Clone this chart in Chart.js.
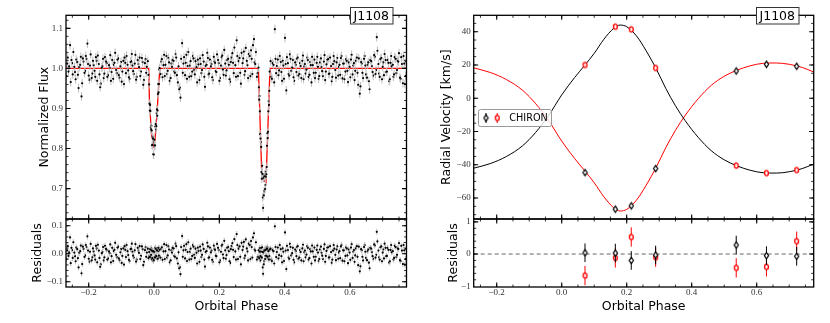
<!DOCTYPE html>
<html><head><meta charset="utf-8">
<script src="https://cdn.jsdelivr.net/npm/chart.js@4.4.0/dist/chart.umd.min.js"></script>
<style>
html,body{margin:0;padding:0;background:#fff;width:830px;height:323px;overflow:hidden}
canvas{position:absolute}
</style></head><body>
<canvas id="lcMain" width="420" height="225" style="left:0px;top:0px"></canvas>
<canvas id="lcRes" width="420" height="109" style="left:0px;top:214px"></canvas>
<canvas id="rvMain" width="415" height="225" style="left:415px;top:0px"></canvas>
<canvas id="rvRes" width="415" height="109" style="left:415px;top:214px"></canvas>
<script>
// ---------------- DATA ----------------
// Light curve (phase-folded photometry), first group of points
const lcPhase = [
-0.266,-0.262,-0.257,-0.253,-0.249,-0.244,-0.240,-0.235,-0.231,-0.226,-0.222,-0.218,-0.213,-0.209,-0.204,-0.200,-0.196,-0.191,-0.187,-0.182,-0.178,-0.174,-0.169,-0.165,-0.160,-0.156,-0.152,-0.147,-0.143,-0.138,-0.134,-0.130,-0.125,-0.121,-0.116,-0.112,-0.108,-0.103,-0.099,-0.094,-0.090,-0.086,-0.081,-0.077,-0.072,-0.068,-0.064,-0.059,-0.055,-0.050,-0.046,-0.042,-0.037,-0.033,-0.028,-0.024,-0.019,
-0.015,-0.013,-0.011,-0.009,-0.007,-0.005,-0.003,-0.001,0.001,0.003,0.005,0.007,0.009,0.011,0.013,0.015,0.017,
0.020,0.024,0.029,0.033,0.038,0.042,0.046,0.051,0.055,0.060,0.064,0.068,0.073,0.077,0.081,0.086,0.090,0.095,0.099,0.103,0.108,0.112,0.117,0.121,0.125,0.130,0.134,0.139,0.143,0.147,0.152,0.156,0.161,0.165,0.169,0.174,0.178,0.183,0.187,0.191,0.196,0.200,0.205,0.209,0.213,0.218,0.222,0.227,0.231,0.235,0.240,0.244,0.249,0.253,0.257,0.262,0.266,0.271,0.275,0.279,0.284,0.288,0.293,0.297,0.301,0.306,0.310,0.315,
0.320,0.322,0.324,0.326,0.328,0.330,0.332,0.334,0.336,0.338,0.340,0.342,0.344,0.346,0.348,0.350,0.352,0.354,
0.357,0.361,0.366,0.370,0.374,0.379,0.383,0.388,0.392,0.396,0.401,0.405,0.410,0.414,0.418,0.423,0.427,0.432,0.436,0.440,0.445,0.449,0.454,0.458,0.462,0.467,0.471,0.476,0.480,0.484,0.489,0.493,0.498,0.502,0.506,0.511,0.515,0.520,0.524,0.528,0.533,0.537,0.542,0.546,0.550,0.555,0.559,0.564,0.568,0.572,0.577,0.581,0.586,0.590,0.594,0.599,0.603,0.608,0.612,0.616,0.621,0.625,0.630,0.634,0.638,0.643,0.647,0.652,0.656,0.660,0.665,0.669,0.674,0.678,0.682,0.687,0.691,0.696,0.700,0.704,0.709,0.713,0.718,0.722,0.726,0.731,0.735,0.740,0.744,0.748,0.753,0.757,0.762,0.766,0.770
];
const lcFlux = [
1.012,.992,1.058,1.021,.985,1.004,.973,1.016,.951,1.009,.93,1.025,.989,1.031,1.062,.982,1.007,.976,1.019,.994,1.028,.969,1.011,.953,1.002,1.024,.987,1.017,.979,1.008,1.033,.991,.974,1.014,.996,1.022,.983,1.005,.967,1.019,1.027,.988,1.009,.978,1.016,1.036,.993,1.012,.972,1.021,1.003,.981,1.026,.959,1.013,.989,1.018,
.960,.895,.894,.848,.845,.809,.825,.785,.822,.808,.861,.856,.898,.895,.961,.961,1.001,
.986,1.023,1.008,.981,1.031,.994,1.015,.976,1.004,1.019,.989,1.027,.965,.948,.927,1.063,1.012,.983,1.034,1.006,.979,1.018,.992,1.025,.985,1.003,1.022,.971,1.011,.996,1.017,.954,1.009,1.026,.987,1.005,.978,1.029,1.014,.991,1.021,.969,1.007,1.032,.984,1.012,.995,1.024,.973,1.016,1.038,.988,1.008,1.07,.981,1.026,.962,1.013,1.042,.993,1.019,.976,1.031,1.045,.986,1.073,1.011,.979,
1.002,.922,.893,.825,.804,.725,.737,.652,.683,.731,.699,.730,.736,.807,.826,.893,.909,.992,
1.018,.974,1.009,1.098,.988,1.022,.995,1.016,.969,1.007,1.076,.945,1.013,.982,1.024,1.002,.978,1.015,.991,1.027,.986,1.006,1.019,.973,1.011,.997,1.021,.984,1.008,1.029,.989,.976,1.014,1.004,.981,1.025,.993,1.017,.971,1.010,1.023,.987,1.006,.979,1.031,.996,1.015,.982,1.009,1.026,.975,1.012,.992,1.019,.966,1.004,1.022,.985,1.013,.994,1.027,.959,.937,1.016,.989,1.024,1.007,.977,1.015,.948,1.018,.991,1.033,.986,1.078,1.011,.979,1.026,1.004,.983,1.021,.992,1.014,.973,1.031,1.009,.985,1.024,.996,1.017,.977,1.028,.963,1.012,.981
];
const lcResid = [
.012,-.008,.058,.021,-.015,.004,-.027,.016,-.049,.009,-.07,.025,-.011,.031,.062,-.018,.007,-.024,.019,-.006,.028,-.031,.011,-.047,.002,.024,-.013,.017,-.021,.008,.033,-.009,-.026,.014,-.004,.022,-.017,.005,-.033,.019,.027,-.012,.009,-.022,.016,.036,-.007,.012,-.028,.021,.003,-.019,.026,-.041,.013,-.011,.018,
.006,-.012,.015,-.004,.011,-.016,.009,-.023,.007,-.014,.018,-.009,.012,-.018,.021,-.007,.014,
-.014,.023,.008,-.019,.031,-.006,.015,-.024,.004,.019,-.011,.027,-.035,-.052,-.073,.063,.012,-.017,.034,.006,-.021,.018,-.008,.025,-.015,.003,.022,-.029,.011,-.004,.017,-.046,.009,.026,-.013,.005,-.022,.029,.014,-.009,.021,-.031,.007,.032,-.016,.012,-.005,.024,-.027,.016,.038,-.012,.008,.07,-.019,.026,-.038,.013,.042,-.007,.019,-.024,.031,.045,-.014,.073,.011,-.021,
.012,-.016,.007,-.009,.021,-.013,.006,-.072,-.038,.011,-.019,.014,-.008,.017,-.011,.009,-.021,.015,
.018,-.026,.009,.098,-.012,.022,-.005,.016,-.031,.007,.076,-.055,.013,-.018,.024,.002,-.022,.015,-.009,.027,-.014,.006,.019,-.027,.011,-.003,.021,-.016,.008,.029,-.011,-.024,.014,.004,-.019,.025,-.007,.017,-.029,.010,.023,-.013,.006,-.021,.031,-.004,.015,-.018,.009,.026,-.025,.012,-.008,.019,-.034,.004,.022,-.015,.013,-.006,.027,-.041,-.063,.016,-.011,.024,.007,-.023,.015,-.052,.018,-.009,.033,-.014,.078,.011,-.021,.026,.004,-.017,.021,-.008,.014,-.027,.031,.009,-.015,.024,-.004,.017,-.023,.028,-.037,.012,-.019
];
// second group of points (interleaved phases)
const lcPhase2 = [
-0.268,-0.264,-0.260,-0.255,-0.251,-0.247,-0.242,-0.238,-0.233,-0.229,-0.224,-0.220,-0.216,-0.211,-0.207,-0.202,-0.198,-0.194,-0.189,-0.185,-0.180,-0.176,-0.172,-0.167,-0.163,-0.158,-0.154,-0.150,-0.145,-0.141,-0.136,-0.132,-0.128,-0.123,-0.119,-0.114,-0.110,-0.106,-0.101,-0.097,-0.092,-0.088,-0.084,-0.079,-0.075,-0.070,-0.066,-0.062,-0.057,-0.053,-0.048,-0.044,-0.040,-0.035,-0.031,-0.026,-0.022,-0.017,
-0.014,-0.012,-0.010,-0.008,-0.006,-0.004,-0.002,0.000,0.002,0.004,0.006,0.008,0.010,0.012,0.014,0.016,
0.022,0.026,0.031,0.035,0.040,0.044,0.048,0.053,0.057,0.062,0.066,0.070,0.075,0.079,0.083,0.088,0.092,0.097,0.101,0.105,0.110,0.114,0.119,0.123,0.127,0.132,0.136,0.141,0.145,0.149,0.154,0.158,0.163,0.167,0.171,0.176,0.180,0.185,0.189,0.193,0.198,0.202,0.207,0.211,0.215,0.220,0.224,0.229,0.233,0.237,0.242,0.246,0.251,0.255,0.259,0.264,0.268,0.273,0.277,0.281,0.286,0.290,0.295,0.299,0.303,0.308,0.312,0.317,
0.321,0.323,0.325,0.327,0.329,0.331,0.333,0.335,0.337,0.339,0.341,0.343,0.345,0.347,0.349,0.351,0.353,
0.359,0.363,0.368,0.372,0.376,0.381,0.385,0.390,0.394,0.398,0.403,0.407,0.412,0.416,0.420,0.425,0.429,0.434,0.438,0.442,0.447,0.451,0.456,0.460,0.464,0.469,0.473,0.478,0.482,0.486,0.491,0.495,0.500,0.504,0.508,0.513,0.517,0.522,0.526,0.530,0.535,0.539,0.544,0.548,0.552,0.557,0.561,0.566,0.570,0.574,0.579,0.583,0.588,0.592,0.596,0.601,0.605,0.610,0.614,0.618,0.623,0.627,0.632,0.636,0.640,0.645,0.649,0.654,0.658,0.662,0.667,0.671,0.676,0.680,0.684,0.689,0.693,0.698,0.702,0.706,0.711,0.715,0.720,0.724,0.728,0.733,0.737,0.742,0.746,0.750,0.755,0.759,0.764,0.768,0.772
];
const lcFlux2 = [
.981,1.027,1.005,.966,1.013,1.041,.991,1.022,.984,1.003,1.029,.963,1.017,.994,1.024,1.011,.972,1.035,.987,1.008,.979,1.019,1.032,.985,.962,1.006,.976,1.028,1.013,.983,1.002,.969,1.021,1.009,1.039,.988,1.025,.977,1.016,.992,.961,1.014,1.031,.995,.974,1.018,1.007,.986,1.034,.979,1.011,1.027,.992,1.016,.971,1.023,1.004,.984,
.912,.909,.853,.857,.808,.829,.786,.816,.807,.855,.848,.888,.882,.936,.940,.997,
1.017,.978,1.034,1.009,.986,1.026,.969,1.012,1.021,.992,1.036,.983,1.005,.952,1.024,.989,1.028,1.014,.974,1.041,1.007,.981,1.031,.996,1.018,.965,1.010,1.025,.988,1.033,.979,1.006,1.039,.985,1.022,1.011,.971,1.017,.993,1.035,1.013,.976,1.028,.997,1.046,.982,1.021,1.009,.967,1.027,1.014,1.052,.979,1.031,1.018,.989,1.039,1.025,.984,1.051,1.008,1.036,.981,1.024,1.058,1.015,1.041,.988,
.953,.931,.836,.816,.741,.757,.678,.727,.693,.735,.709,.742,.754,.838,.842,.918,.944,
.979,1.013,.965,1.024,1.006,.983,1.031,.991,1.019,.974,1.011,1.028,.986,1.035,.994,1.021,.969,1.009,1.024,.982,1.013,.976,1.032,1.005,.987,1.027,.979,1.016,.965,1.008,1.022,.989,1.029,.974,1.015,1.003,.981,1.033,.992,1.021,.986,1.027,.968,1.011,1.018,.977,1.026,1.004,.984,1.031,1.012,.973,1.023,.994,1.015,.978,1.034,1.007,.971,1.019,.989,1.025,.955,1.012,.976,1.031,.985,1.009,.968,1.021,1.006,.982,1.029,.996,1.044,.987,1.023,.973,1.015,1.036,.991,1.021,.968,1.014,1.005,.979,1.028,.988,1.019,1.038,.974,1.011,1.031,.961,1.017
];
const lcResid2 = [
-.019,.027,.005,-.034,.013,.041,-.009,.022,-.016,.003,.029,-.037,.017,-.006,.024,.011,-.028,.035,-.013,.008,-.021,.019,.032,-.015,-.038,.006,-.024,.028,.013,-.017,.002,-.031,.021,.009,.039,-.012,.025,-.023,.016,-.008,-.039,.014,.031,-.005,-.026,.018,.007,-.014,.034,-.021,.011,.027,-.008,.016,-.029,.023,.004,-.016,
-.009,.016,-.013,.019,-.021,.008,-.026,.005,-.011,.022,-.006,.013,-.017,.009,-.014,.019,
.017,-.022,.034,.009,-.014,.026,-.031,.012,.021,-.008,.036,-.017,.005,-.048,.024,-.011,.028,.014,-.026,.041,.007,-.019,.031,-.004,.018,-.035,.010,.025,-.012,.033,-.021,.006,.039,-.015,.022,.011,-.029,.017,-.007,.035,.013,-.024,.028,-.003,.046,-.018,.021,.009,-.033,.027,.014,.052,-.021,.031,.018,-.011,.039,.025,-.016,.051,.008,.036,-.019,.024,.058,.015,.041,-.012,
-.011,.019,-.024,.008,-.016,.023,-.049,.005,-.027,.016,-.008,.021,-.013,.024,-.018,.011,-.009,
-.021,.013,-.035,.024,.006,-.017,.031,-.009,.019,-.026,.011,.028,-.014,.035,-.006,.021,-.031,.009,.024,-.018,.013,-.024,.032,.005,-.013,.027,-.021,.016,-.035,.008,.022,-.011,.029,-.026,.015,.003,-.019,.033,-.008,.021,-.014,.027,-.032,.011,.018,-.023,.026,.004,-.016,.031,.012,-.027,.023,-.006,.015,-.022,.034,.007,-.029,.019,-.011,.025,-.045,.012,-.024,.031,-.015,.009,-.032,.021,.006,-.018,.029,-.004,.044,-.013,.023,-.027,.015,.036,-.009,.021,-.032,.014,.005,-.021,.028,-.012,.019,.038,-.026,.011,.031,-.039,.017
];
const lcErr = 0.011;
// Light-curve model
const modelPhase = [-0.27,-0.0163,-0.0141,-0.008,-0.001,0.003,0.0092,0.0153,0.0184,0.3196,0.3297,0.3345,0.3428,0.355,0.775];
const modelFlux  = [1,1,0.922,0.838,0.8075,0.822,0.888,0.972,1,1,0.7385,0.722,0.716,1,1];

// Radial velocities (CHIRON)
const rvPhase  = [0.0717,0.165,0.214,0.289,0.537,0.630,0.723];
const rvBlack  = [-44.7,-66.7,-64.7,-42.3,16.4,20.4,19.2];
const rvRed    = [20.0,43.0,41.4,18.2,-40.5,-45.0,-43.2];
const rvErr    = 0.3;
const rvResBlack = [0.04,0.03,-0.20,-0.03,0.28,-0.05,-0.07];
const rvResRed   = [-0.67,-0.12,0.53,-0.10,-0.43,-0.40,0.40];
const rvResErrBlack = 0.29;
const rvResErrRed   = 0.30;
// RV model curves
const curvePhase = [-0.27,-0.22,-0.17,-0.12,-0.08,-0.04,0.00,0.04,0.0717,0.10,0.13,0.16,0.18,0.20,0.23,0.26,0.29,0.32,0.35,0.38,0.42,0.46,0.50,0.54,0.58,0.62,0.66,0.70,0.74,0.775];
const curveBlack = [-42.0,-39.3,-35.0,-28.5,-20.5,-10.3,2.0,12.5,20.0,27.0,35.5,42.0,44.0,43.0,37.5,28.5,18.0,6.0,-4.5,-13.5,-23.5,-31.5,-37.0,-40.7,-43.3,-44.8,-45.0,-44.2,-42.3,-39.6];
const curveRed   = [18.2,15.5,11.2,4.7,-3.3,-13.5,-25.8,-36.3,-43.8,-50.8,-59.3,-65.8,-67.8,-66.8,-61.3,-52.3,-41.8,-29.8,-19.3,-10.3,-0.3,7.7,13.2,16.9,19.5,21.0,21.2,20.4,18.5,15.8];

// Axis ticks
const xTicks = [-0.2,0.0,0.2,0.4,0.6];
const lcYTicks = [0.7,0.8,0.9,1.0,1.1];
const lcResTicks = [-0.1,0.0,0.1];
const rvYTicks = [-60,-40,-20,0,20,40];
const rvResTicks = [-1,0,1];

// ---------------- HELPERS ----------------
const SANS = "'DejaVu Sans', sans-serif";
const SERIF = {family: "'Liberation Serif', 'DejaVu Serif', serif", size: 9};
const fmt = d => v => (v < 0 ? '\u2212' : '') + Math.abs(v).toFixed(d);
const pts = (xs, ys) => xs.map((x, i) => ({x: x, y: ys[i]}));

function markerImg(kind, color) {
  const c = document.createElement('canvas'); c.width = 9; c.height = 11;
  const g = c.getContext('2d');
  g.lineWidth = 1.2; g.strokeStyle = color; g.fillStyle = '#fff';
  g.beginPath();
  if (kind === 'd') { g.moveTo(4.5, 2.3); g.lineTo(6.6, 5.5); g.lineTo(4.5, 8.7); g.lineTo(2.4, 5.5); g.closePath(); }
  else { g.ellipse(4.5, 5.5, 1.9, 2.6, 0, 0, Math.PI * 2); g.lineWidth = 1.4; }
  g.fill(); g.stroke();
  return c;
}
const imgBlack = markerImg('d', '#000');
const imgRed = markerImg('o', '#ff0000');

function yAxis(o) {
  return {
    type: 'linear', min: o.min, max: o.max,
    afterFit: s => { s.width = o.width; s.paddingTop = 0; s.paddingBottom = 0; },
    afterBuildTicks: s => { s.ticks = o.ticks.map(v => ({value: v})); },
    ticks: {callback: fmt(o.dec), font: SERIF, color: '#333', padding: 3, autoSkip: false},
    grid: {display: false, drawTicks: false},
    border: {display: false},
    title: {display: true, text: o.title, font: {family: SANS, size: 12.5}, color: '#000', padding: {top: o.tpad, bottom: 0}}
  };
}
function xAxis(o) {
  return {
    type: 'linear', min: o.min, max: o.max, display: o.show,
    afterFit: s => { s.height = o.show ? 36 : 0; s.paddingLeft = 0; s.paddingRight = 0; },
    afterBuildTicks: s => { s.ticks = xTicks.map(v => ({value: v})); },
    ticks: {callback: fmt(1), font: SERIF, color: '#333', padding: 0, autoSkip: false, maxRotation: 0},
    grid: {display: false, drawTicks: false},
    border: {display: false},
    title: {display: true, text: 'Orbital Phase', font: {family: SANS, size: 12.5}, color: '#000', padding: {top: 0, bottom: 8.8}}
  };
}

// frame + inward ticks on all sides
const framePlugin = {
  id: 'frame',
  afterDraw(chart, args, o) {
    const {ctx, chartArea: a} = chart;
    const xs = chart.scales.x, ys = chart.scales.y;
    const minors = (min, max, step) => { const out = []; for (let k = Math.ceil(min / step - 1e-9); k * step <= max + 1e-9; k++) out.push(k * step); return out; };
    ctx.save();
    ctx.strokeStyle = '#000';
    const drawSet = (xv, yv, len, lw) => {
      ctx.lineWidth = lw; ctx.beginPath();
      xv.forEach(v => { const p = xs.getPixelForValue(v); if (p < a.left + 1 || p > a.right - 1) return;
        ctx.moveTo(p, a.bottom); ctx.lineTo(p, a.bottom - len); ctx.moveTo(p, a.top); ctx.lineTo(p, a.top + len); });
      yv.forEach(v => { const p = ys.getPixelForValue(v); if (p < a.top + 1 || p > a.bottom - 1) return;
        ctx.moveTo(a.left, p); ctx.lineTo(a.left + len, p); ctx.moveTo(a.right, p); ctx.lineTo(a.right - len, p); });
      ctx.stroke();
    };
    drawSet(minors(xs.min, xs.max, o.xMinor), minors(ys.min, ys.max, o.yMinor), 2.5, 0.8);
    drawSet(xTicks, o.yMajor, 4.5, 1.1);
    ctx.lineWidth = 1.3;
    ctx.strokeRect(a.left, a.top, a.right - a.left, a.bottom - a.top);
    ctx.restore();
  }
};

// vertical error bars drawn just under each dataset's markers
const errPlugin = {
  id: 'errbars',
  beforeDatasetDraw(chart, args) {
    const ds = chart.data.datasets[args.index];
    if (ds.errors === undefined) return;
    const {ctx, chartArea: a} = chart;
    const xs = chart.scales.x, ys = chart.scales.y;
    ctx.save();
    ctx.beginPath(); ctx.rect(a.left, a.top, a.right - a.left, a.bottom - a.top); ctx.clip();
    ctx.strokeStyle = ds.errColor; ctx.lineWidth = ds.errWidth || 1;
    ctx.beginPath();
    ds.data.forEach(p => {
      const x = xs.getPixelForValue(p.x);
      ctx.moveTo(x, ys.getPixelForValue(p.y - ds.errors));
      ctx.lineTo(x, ys.getPixelForValue(p.y + ds.errors));
    });
    ctx.stroke();
    ctx.restore();
  }
};

// "J1108" tag box on the top border
const tagPlugin = {
  id: 'tag',
  afterDraw(chart, args, o) {
    if (!o.text) return;
    const {ctx, chartArea: a} = chart;
    ctx.save();
    ctx.font = "12.5px " + SANS;
    const tw = ctx.measureText(o.text).width;
    const bw = tw + 7, bh = 16.5;
    const x = Math.round(a.right - o.right - bw), y = Math.round(a.top - 8.5);
    ctx.fillStyle = '#fff'; ctx.fillRect(x, y, bw, bh);
    ctx.strokeStyle = '#333'; ctx.lineWidth = 1; ctx.strokeRect(x + 0.5, y + 0.5, bw, bh);
    ctx.fillStyle = '#000'; ctx.textBaseline = 'middle';
    ctx.fillText(o.text, x + 3.5, y + bh / 2 + 1);
    ctx.restore();
  }
};

// legend box "CHIRON"
const legendPlugin = {
  id: 'rvlegend',
  afterDraw(chart, args, o) {
    if (!o.show) return;
    const {ctx, chartArea: a} = chart;
    const x = Math.round(a.left + 4.5), y = Math.round(a.top + 94), w = 73, h = 17;
    ctx.save();
    ctx.fillStyle = 'rgba(255,255,255,0.8)'; ctx.strokeStyle = '#999'; ctx.lineWidth = 1;
    ctx.beginPath(); ctx.roundRect(x + 0.5, y + 0.5, w, h, 2); ctx.fill(); ctx.stroke();
    const cy = y + h / 2 + 0.5;
    const bx = a.left + 12.3, rx = a.left + 23.5;
    ctx.lineWidth = 1;
    ctx.strokeStyle = '#000'; ctx.beginPath(); ctx.moveTo(bx, cy - 5); ctx.lineTo(bx, cy + 5); ctx.stroke();
    ctx.drawImage(imgBlack, bx - imgBlack.width / 2, cy - imgBlack.height / 2);
    ctx.strokeStyle = '#ff0000'; ctx.beginPath(); ctx.moveTo(rx, cy - 5); ctx.lineTo(rx, cy + 5); ctx.stroke();
    ctx.drawImage(imgRed, rx - imgRed.width / 2, cy - imgRed.height / 2);
    ctx.fillStyle = '#000'; ctx.font = "9.7px " + SANS; ctx.textBaseline = 'middle';
    ctx.fillText('CHIRON', a.left + 35.6, cy + 0.5);
    ctx.restore();
  }
};

const PLUGINS = [errPlugin, framePlugin, tagPlugin, legendPlugin];
function baseOptions(scales, padding, plug) {
  return {
    responsive: false, animation: false, events: [],
    devicePixelRatio: 1,
    layout: {padding: padding},
    scales: scales,
    plugins: Object.assign({legend: {display: false}, tooltip: {enabled: false}}, plug)
  };
}
const lcPointStyle = {pointRadius: 1.1, pointBorderWidth: 0, backgroundColor: '#000', borderColor: '#000', errors: lcErr, errColor: '#bdbdbd', order: 1};

// ---------------- LEFT: light curve ----------------
new Chart(document.getElementById('lcMain'), {
  type: 'scatter',
  data: {datasets: [
    Object.assign({data: pts(lcPhase, lcFlux)}, lcPointStyle),
    Object.assign({data: pts(lcPhase2, lcFlux2)}, lcPointStyle),
    {data: pts(modelPhase, modelFlux), showLine: true, pointRadius: 0, borderColor: '#ff0000', borderWidth: 1.3, tension: 0, order: 2}
  ]},
  options: baseOptions({
    x: xAxis({min: -0.2695, max: 0.773, show: false}),
    y: yAxis({min: 0.6243, max: 1.1325, ticks: lcYTicks, dec: 1, width: 66, title: 'Normalized Flux', tpad: 37.5})
  }, {left: 0, top: 15.3, right: 13.5, bottom: 6},
  {frame: {xMinor: 0.05, yMinor: 0.02, yMajor: lcYTicks}, tag: {text: 'J1108', right: 14.2}, rvlegend: {show: false}}),
  plugins: PLUGINS
});

new Chart(document.getElementById('lcRes'), {
  type: 'scatter',
  data: {datasets: [
    Object.assign({data: pts(lcPhase, lcResid)}, lcPointStyle),
    Object.assign({data: pts(lcPhase2, lcResid2)}, lcPointStyle)
  ]},
  options: baseOptions({
    x: xAxis({min: -0.2695, max: 0.773, show: true}),
    y: yAxis({min: -0.119, max: 0.124, ticks: lcResTicks, dec: 1, width: 66, title: 'Residuals', tpad: 30.2})
  }, {left: 0, top: 5, right: 13.5, bottom: 0},
  {frame: {xMinor: 0.05, yMinor: 0.02, yMajor: lcResTicks}, tag: {}, rvlegend: {show: false}}),
  plugins: PLUGINS
});

// ---------------- RIGHT: radial velocities ----------------
new Chart(document.getElementById('rvMain'), {
  type: 'scatter',
  data: {datasets: [
    {data: pts(rvPhase, rvBlack), pointStyle: imgBlack, pointRadius: 3, errors: rvErr, errColor: '#000', order: 1},
    {data: pts(rvPhase, rvRed), pointStyle: imgRed, pointRadius: 3, errors: rvErr, errColor: '#ff0000', order: 1},
    {data: pts(curvePhase, curveBlack), showLine: true, pointRadius: 0, borderColor: '#000', borderWidth: 1, cubicInterpolationMode: 'monotone', order: 2},
    {data: pts(curvePhase, curveRed), showLine: true, pointRadius: 0, borderColor: '#ff0000', borderWidth: 1, cubicInterpolationMode: 'monotone', order: 2}
  ]},
  options: baseOptions({
    x: xAxis({min: -0.2708, max: 0.7754, show: false}),
    y: yAxis({min: -72.6, max: 49.86, ticks: rvYTicks, dec: 0, width: 58.7, title: 'Radial Velocity [km/s]', tpad: 24.2})
  }, {left: 0, top: 15.3, right: 16.3, bottom: 6},
  {frame: {xMinor: 0.05, yMinor: 5, yMajor: rvYTicks}, tag: {text: 'J1108', right: 15}, rvlegend: {show: true}}),
  plugins: PLUGINS
});

new Chart(document.getElementById('rvRes'), {
  type: 'scatter',
  data: {datasets: [
    {data: pts(rvPhase, rvResBlack), pointStyle: imgBlack, pointRadius: 3, errors: rvResErrBlack, errColor: '#000', order: 1},
    {data: pts(rvPhase, rvResRed), pointStyle: imgRed, pointRadius: 3, errors: rvResErrRed, errColor: '#ff0000', order: 1},
    {data: [{x: -0.2708, y: 0}, {x: 0.7754, y: 0}], showLine: true, pointRadius: 0, borderColor: '#666', borderWidth: 1, borderDash: [4, 3], order: 2}
  ]},
  options: baseOptions({
    x: xAxis({min: -0.2708, max: 0.7754, show: true}),
    y: yAxis({min: -1.025, max: 1.09, ticks: rvResTicks, dec: 0, width: 58.7, title: 'Residuals', tpad: 30.8})
  }, {left: 0, top: 5, right: 16.3, bottom: 0},
  {frame: {xMinor: 0.05, yMinor: 0.2, yMajor: rvResTicks}, tag: {}, rvlegend: {show: false}}),
  plugins: PLUGINS
});
</script>
</body></html>
